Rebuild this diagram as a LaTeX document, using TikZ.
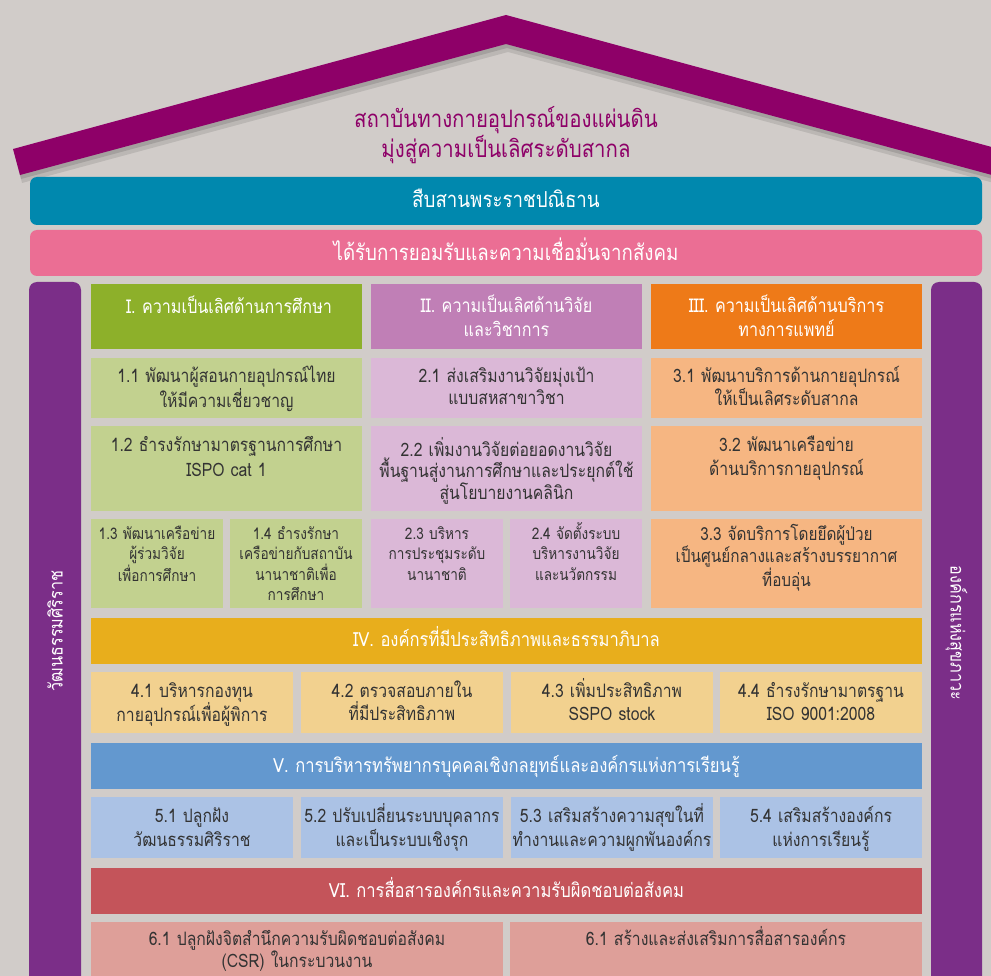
\documentclass[tikz,border=0pt]{standalone}
\usepackage{fontspec}
\newfontfamily\thai[Script=Thai,FakeStretch=0.85]{Loma}
\definecolor{bgc}{HTML}{D1CCC9}
\definecolor{roofc}{HTML}{8E0068}
\definecolor{bandA}{HTML}{0088AE}
\definecolor{bandB}{HTML}{EB6E94}
\definecolor{pillc}{HTML}{7B2E88}
\definecolor{gH}{HTML}{8DB02A}\definecolor{gS}{HTML}{C2D18F}
\definecolor{pH}{HTML}{C07FB6}\definecolor{pS}{HTML}{DBB8D7}
\definecolor{oH}{HTML}{EE7A18}\definecolor{oS}{HTML}{F6B682}
\definecolor{yH}{HTML}{E8AE1C}\definecolor{yS}{HTML}{F2D18F}
\definecolor{bH}{HTML}{6398CF}\definecolor{bS}{HTML}{ABC2E5}
\definecolor{rH}{HTML}{C4545A}\definecolor{rS}{HTML}{DE9F99}
\definecolor{txtc}{HTML}{333333}
\newcommand\fsz[2]{\thai\fontsize{#1}{#2}\selectfont}
\begin{document}
\begin{tikzpicture}[x=1pt,y=-1pt,
  blk/.style={inner sep=0pt, outer sep=0pt, anchor=north west, draw=none},
  lbl/.style={inner sep=0pt, anchor=base, align=center, text width=300pt},
  hd/.style={lbl, text=white},
  sb/.style={lbl, text=txtc}]
\fill[bgc] (0,0) rectangle (991,976);
\useasboundingbox (0,0) rectangle (991,976);
% roof shadow
\fill[black, opacity=0.10] (15,155) -- (508,21) -- (1001,155) -- (994,183) -- (508,52) -- (22,183) -- cycle;
\fill[black, opacity=0.12] (14,152) -- (507,18) -- (1000,152) -- (993,179) -- (507,48) -- (21,179) -- cycle;
% roof
\fill[roofc] (13,149) -- (506,15) -- (999,149) -- (992,175) -- (506,44) -- (20,175) -- cycle;
\node[lbl, text width=500pt, text=roofc, font={\fsz{24}{27}}] (title) at (506,128) {สถาบันทางกายอุปกรณ์ของแผ่นดิน\\มุ่งสู่ความเป็นเลิศระดับสากล};
% bands
\node[blk, fill=bandA, rounded corners=7pt, minimum width=952, minimum height=48] (bandone) at (30,177) {};
\node[hd, text width=600pt, font={\fsz{22}{22}}] (bandonet) at (506,208) {สืบสานพระราชปณิธาน};
\node[blk, fill=bandB, rounded corners=7pt, minimum width=952, minimum height=46] (bandtwo) at (30,230) {};
\node[hd, text width=600pt, font={\fsz{22}{22}}] (bandtwot) at (506,261) {ได้รับการยอมรับและความเชื่อมั่นจากสังคม};
% pillars
\node[blk, fill=pillc, rounded corners=8pt, minimum width=52, minimum height=740] (lpill) at (29,282) {};
\node[text=white, rotate=90, inner sep=0pt, font={\fsz{19}{22}}] (lpillt) at (55,631) {วัฒนธรรมศิริราช};
\node[blk, fill=pillc, rounded corners=8pt, minimum width=51, minimum height=740] (rpill) at (931,282) {};
\node[text=white, rotate=-90, inner sep=0pt, font={\fsz{19}{22}}] (rpillt) at (956.5,633) {องค์กรแห่งสุขภาวะ};
% column headers
\node[blk, fill=gH, minimum width=271, minimum height=65] (hone) at (91,284) {};
\node[hd, font={\fsz{19}{24}}] (honet) at (229,314) {I. ความเป็นเลิศด้านการศึกษา};
\node[blk, fill=pH, minimum width=271, minimum height=65] (htwo) at (371,284) {};
\node[hd, font={\fsz{19}{24}}] (htwot) at (506.5,313) {II. ความเป็นเลิศด้านวิจัย\\และวิชาการ};
\node[blk, fill=oH, minimum width=271, minimum height=65] (hthree) at (651,284) {};
\node[hd, font={\fsz{19}{24}}] (hthreet) at (786.5,313) {III. ความเป็นเลิศด้านบริการ\\ทางการแพทย์};
% row 1
\node[blk, fill=gS, minimum width=271, minimum height=60] (s11) at (91,358) {};
\node[sb, font={\fsz{18.5}{21.5}}] (s11t) at (226.5,383) {1.1 พัฒนาผู้สอนกายอุปกรณ์ไทย\\ให้มีความเชี่ยวชาญ};
\node[blk, fill=pS, minimum width=271, minimum height=60] (s21) at (371,358) {};
\node[sb, font={\fsz{18.5}{21.5}}] (s21t) at (506.5,383) {2.1 ส่งเสริมงานวิจัยมุ่งเป้า\\แบบสหสาขาวิชา};
\node[blk, fill=oS, minimum width=271, minimum height=60] (s31) at (651,358) {};
\node[sb, font={\fsz{18.5}{21.5}}] (s31t) at (786.5,383) {3.1 พัฒนาบริการด้านกายอุปกรณ์\\ให้เป็นเลิศระดับสากล};
% row 2
\node[blk, fill=gS, minimum width=271, minimum height=85] (s12) at (91,426) {};
\node[sb, font={\fsz{18.5}{25}}] (s12t) at (226.5,451) {1.2 ธำรงรักษามาตรฐานการศึกษา\\ISPO cat 1};
\node[blk, fill=pS, minimum width=271, minimum height=85] (s22) at (371,426) {};
\node[sb, font={\fsz{18.5}{21.5}}] (s22t) at (506.5,456) {2.2 เพิ่มงานวิจัยต่อยอดงานวิจัย\\พื้นฐานสู่งานการศึกษาและประยุกต์ใช้\\สู่นโยบายงานคลินิก};
\node[blk, fill=oS, minimum width=271, minimum height=85] (s32) at (651,426) {};
\node[sb, font={\fsz{18.5}{24}}] (s32t) at (786.5,451) {3.2 พัฒนาเครือข่าย\\ด้านบริการกายอุปกรณ์};
% row 3
\node[blk, fill=gS, minimum width=132, minimum height=89] (s13) at (91,519) {};
\node[sb, font={\fsz{16}{20.5}}] (s13t) at (157,539) {1.3 พัฒนาเครือข่าย\\ผู้ร่วมวิจัย\\เพื่อการศึกษา};
\node[blk, fill=gS, minimum width=132, minimum height=89] (s14) at (230,519) {};
\node[sb, font={\fsz{16}{20.5}}] (s14t) at (296,539) {1.4 ธำรงรักษา\\เครือข่ายกับสถาบัน\\นานาชาติเพื่อ\\การศึกษา};
\node[blk, fill=pS, minimum width=132, minimum height=89] (s23) at (371,519) {};
\node[sb, font={\fsz{16}{20.5}}] (s23t) at (437,539) {2.3 บริหาร\\การประชุมระดับ\\นานาชาติ};
\node[blk, fill=pS, minimum width=132, minimum height=89] (s24) at (510,519) {};
\node[sb, font={\fsz{16}{20.5}}] (s24t) at (576,539) {2.4 จัดตั้งระบบ\\บริหารงานวิจัย\\และนวัตกรรม};
\node[blk, fill=oS, minimum width=271, minimum height=89] (s33) at (651,519) {};
\node[sb, font={\fsz{18}{22.5}}] (s33t) at (786.5,540) {3.3 จัดบริการโดยยึดผู้ป่วย\\เป็นศูนย์กลางและสร้างบรรยากาศ\\ที่อบอุ่น};
% IV
\node[blk, fill=yH, minimum width=831, minimum height=46] (hfour) at (91,618) {};
\node[hd, text width=800pt, font={\fsz{19.5}{24}}] (hfourt) at (506.5,646) {IV. องค์กรที่มีประสิทธิภาพและธรรมาภิบาล};
\node[blk, fill=yS, minimum width=202, minimum height=61] (s41) at (91,672) {};
\node[sb, font={\fsz{18.5}{23}}] (s41t) at (192,697) {4.1 บริหารกองทุน\\กายอุปกรณ์เพื่อผู้พิการ};
\node[blk, fill=yS, minimum width=202, minimum height=61] (s42) at (301,672) {};
\node[sb, font={\fsz{18.5}{23}}] (s42t) at (402,697) {4.2 ตรวจสอบภายใน\\ที่มีประสิทธิภาพ};
\node[blk, fill=yS, minimum width=202, minimum height=61] (s43) at (511,672) {};
\node[sb, font={\fsz{18.5}{23}}] (s43t) at (612,697) {4.3 เพิ่มประสิทธิภาพ\\SSPO stock};
\node[blk, fill=yS, minimum width=202, minimum height=61] (s44) at (720,672) {};
\node[sb, font={\fsz{18.5}{23}}] (s44t) at (821,697) {4.4 ธำรงรักษามาตรฐาน\\ISO 9001:2008};
% V
\node[blk, fill=bH, minimum width=831, minimum height=46] (hfive) at (91,743) {};
\node[hd, text width=800pt, font={\fsz{19.5}{24}}] (hfivet) at (506.5,772) {V. การบริหารทรัพยากรบุคคลเชิงกลยุทธ์และองค์กรแห่งการเรียนรู้};
\node[blk, fill=bS, minimum width=202, minimum height=61] (s51) at (91,797) {};
\node[sb, font={\fsz{18.5}{24}}] (s51t) at (192,822) {5.1 ปลูกฝัง\\วัฒนธรรมศิริราช};
\node[blk, fill=bS, minimum width=202, minimum height=61] (s52) at (301,797) {};
\node[sb, font={\fsz{18.5}{24}}] (s52t) at (402,822) {5.2 ปรับเปลี่ยนระบบบุคลากร\\และเป็นระบบเชิงรุก};
\node[blk, fill=bS, minimum width=202, minimum height=61] (s53) at (511,797) {};
\node[sb, font={\fsz{18.5}{24}}] (s53t) at (612,822) {5.3 เสริมสร้างความสุขในที่\\ทำงานและความผูกพันองค์กร};
\node[blk, fill=bS, minimum width=202, minimum height=61] (s54) at (720,797) {};
\node[sb, font={\fsz{18.5}{24}}] (s54t) at (821,822) {5.4 เสริมสร้างองค์กร\\แห่งการเรียนรู้};
% VI
\node[blk, fill=rH, minimum width=831, minimum height=46] (hsix) at (91,868) {};
\node[hd, text width=800pt, font={\fsz{19.5}{24}}] (hsixt) at (506.5,897) {VI. การสื่อสารองค์กรและความรับผิดชอบต่อสังคม};
\node[blk, fill=rS, minimum width=412, minimum height=80] (s61) at (91,922) {};
\node[sb, text width=400pt, font={\fsz{18.5}{22}}] (s61t) at (297,945) {6.1 ปลูกฝังจิตสำนึกความรับผิดชอบต่อสังคม\\(CSR) ในกระบวนงาน};
\node[blk, fill=rS, minimum width=412, minimum height=80] (s62) at (510,922) {};
\node[sb, text width=400pt, font={\fsz{18.5}{24}}] (s62t) at (716,945) {6.1 สร้างและส่งเสริมการสื่อสารองค์กร};
\end{tikzpicture}
\end{document}
